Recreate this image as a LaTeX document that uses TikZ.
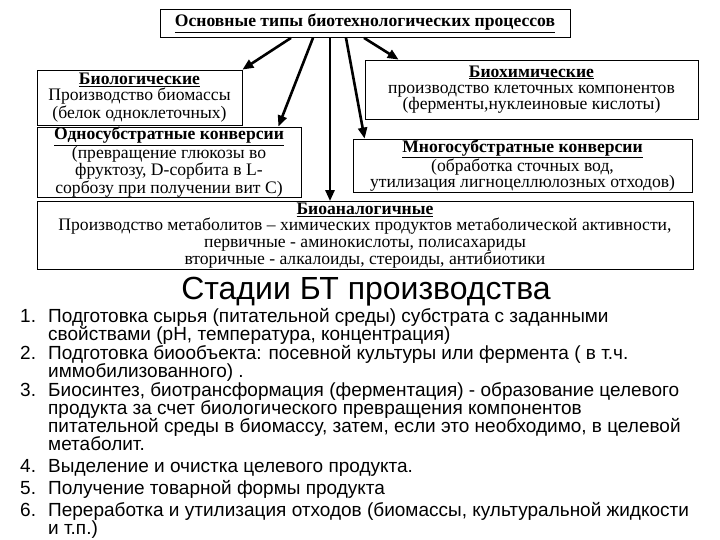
\documentclass[tikz,border=0pt]{standalone}
\usepackage{fontspec}
\setmainfont{Liberation Serif}
\newfontfamily\arialf{Liberation Sans}
\usetikzlibrary{arrows.meta}
\begin{document}
\begin{tikzpicture}[x=1pt,y=-1pt,
  box/.style={draw,line width=0.8pt,inner sep=0pt,align=center,font=\fontsize{17.6}{16.3}\selectfont},
  arr/.style={line width=2.6pt,-{Triangle[length=11pt,width=9pt]}},
  li/.style={anchor=base west,inner sep=0pt,font=\arialf\fontsize{19}{19}\selectfont}]
\useasboundingbox (0,0) rectangle (720,540);
\fill[white] (0,0) rectangle (720,540);
\node[box,minimum width=410,minimum height=28] (top) at (365,23.5) {\textbf{\underline{Основные типы биотехнологических процессов}}};
\node[box,minimum width=205,minimum height=55] (bio) at (139.5,97.5) {\textbf{\underline{Биологические}}\\Производство биомассы\\(белок одноклеточных)};
\node[box,minimum width=333,minimum height=59] (bch) at (531.5,89.5) {\textbf{\underline{Биохимические}}\\производство клеточных компонентов\\(ферменты,нуклеиновые кислоты)};
\node[box,minimum width=264,minimum height=62] (one) at (169,162) {\textbf{\underline{Односубстратные конверсии}}\\(превращение глюкозы во\\фруктозу, D-сорбита в L-\\сорбозу при получении вит С)};
\node[box,minimum width=339,minimum height=53] (many) at (522.5,165.5) {\textbf{\underline{Многосубстратные конверсии}}\\(обработка сточных вод,\\утилизация лигноцеллюлозных отходов)};
\node[box,minimum width=656,minimum height=68] (ana) at (365,235.5) {\textbf{\underline{Биоаналогичные}}\\Производство метаболитов – химических продуктов метаболической активности,\\первичные - аминокислоты, полисахариды\\вторичные - алкалоиды, стероиды, антибиотики};
\draw[arr] ([xshift=-74pt]top.south) -- (bio.north east);
\draw[arr] ([xshift=-52pt]top.south) -- ([xshift=-23pt]one.north east);
\draw[arr] ([xshift=-35pt]top.south) -- (ana.north -| 330,0);
\draw[arr] ([xshift=-19pt]top.south) -- ([xshift=12pt]many.north west);
\draw[arr] ([xshift=-1pt]top.south) -- ([xshift=34pt]bch.north west);
\node[anchor=center,inner sep=0pt,font=\arialf\fontsize{32}{34}\selectfont] (head) at (366,292) {Стадии БТ производства};
\node[li] (n1) at (20,322) {1.}; \node[li] (t1) at (48,322) {Подготовка сырья (питательной среды) субстрата с заданными};
\node[li] (t1b) at (48,340) {свойствами (рН, температура, концентрация)};
\node[li] (n2) at (20,359) {2.}; \node[li] (t2) at (48,359) {Подготовка биообъекта: посевной культуры или фермента ( в т.ч.};
\node[li] (t2b) at (48,377) {иммобилизованного) .};
\node[li] (n3) at (20,396) {3.}; \node[li] (t3) at (48,396) {Биосинтез, биотрансформация (ферментация) - образование целевого};
\node[li] (t3b) at (48,414) {продукта за счет биологического превращения компонентов};
\node[li] (t3c) at (48,432) {питательной среды в биомассу, затем, если это необходимо, в целевой};
\node[li] (t3d) at (48,450) {метаболит.};
\node[li] (n4) at (20,472) {4.}; \node[li] (t4) at (48,472) {Выделение и очистка целевого продукта.};
\node[li] (n5) at (20,494) {5.}; \node[li] (t5) at (48,494) {Получение товарной формы продукта};
\node[li] (n6) at (20,516) {6.}; \node[li] (t6) at (48,516) {Переработка и утилизация отходов (биомассы, культуральной жидкости};
\node[li] (t6b) at (48,534) {и т.п.)};
\end{tikzpicture}
\end{document}
